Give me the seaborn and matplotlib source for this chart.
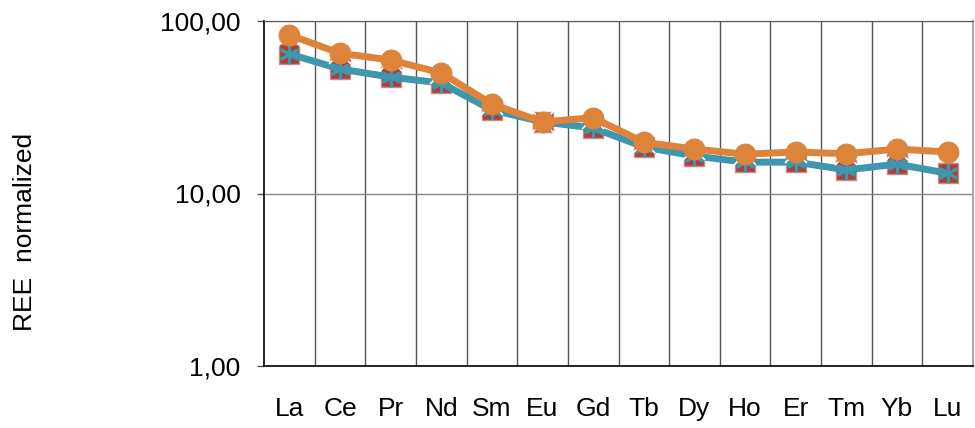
import numpy as np
import pandas as pd
import matplotlib
matplotlib.use("Agg")
import matplotlib.pyplot as plt
from matplotlib.ticker import FixedLocator, FuncFormatter, NullFormatter
import seaborn as sns

# REE pattern, chondrite-normalized values
elements = ["La", "Ce", "Pr", "Nd", "Sm", "Eu", "Gd", "Tb", "Dy", "Ho", "Er", "Tm", "Yb", "Lu"]
sample_a = [64.4, 52.7, 47.3, 43.7, 30.5, 26.0, 24.0, 18.6, 16.5, 15.2, 15.2, 13.7, 14.8, 13.1]
sample_b = [83.0, 65.0, 59.4, 50.0, 33.0, 26.0, 27.5, 19.8, 18.1, 16.9, 17.4, 17.0, 18.1, 17.4]

sns.set_style("white")
plt.rcParams["font.family"] = ["Liberation Sans", "DejaVu Sans"]
plt.rcParams["text.color"] = "black"
plt.rcParams["xtick.color"] = "black"
plt.rcParams["ytick.color"] = "black"

df = pd.DataFrame({"element": elements, "a": sample_a, "b": sample_b})

fig = plt.figure(figsize=(9.75, 4.28), dpi=100)
ax = fig.add_axes([264 / 975, 1 - 366 / 428, (973 - 264) / 975, (366 - 21) / 428])

# series A: red squares under a teal line with star markers
sns.lineplot(data=df, x="element", y="a", ax=ax, color="#3D97AE", lw=0,
             marker="s", markersize=15, markerfacecolor="#A8423E",
             markeredgecolor="#C98A88", markeredgewidth=1, zorder=3, sort=False)
sns.lineplot(data=df, x="element", y="a", ax=ax, color="#3D97AE", lw=5,
             marker=(6, 2, 0), markersize=14, markeredgecolor="#3D97AE",
             markeredgewidth=2, zorder=4, sort=False)

# series B: purple crosses hidden under orange circles
sns.lineplot(data=df, x="element", y="b", ax=ax, color="#7A5AA0", lw=0,
             marker="x", markersize=16, markeredgewidth=1.2, zorder=5, sort=False)
sns.lineplot(data=df, x="element", y="b", ax=ax, color="#DE833A", lw=5,
             marker="o", markersize=15, markeredgecolor="#DE833A", zorder=6, sort=False)

ax.set_yscale("log")
ax.set_ylim(1, 100)
ax.set_xlim(-0.5, len(elements) - 0.5)
ax.yaxis.set_major_locator(FixedLocator([1, 10, 100]))
ax.yaxis.set_minor_locator(FixedLocator([]))
ax.yaxis.set_major_formatter(FuncFormatter(lambda v, p: f"{v:.2f}".replace(".", ",")))

ax.xaxis.set_minor_locator(FixedLocator(np.arange(0.5, len(elements) - 0.5, 1)))
ax.xaxis.set_minor_formatter(NullFormatter())
ax.grid(True, which="minor", axis="x", color="#555555", lw=1)
ax.grid(True, which="major", axis="y", color="#888888", lw=1)
ax.set_axisbelow(True)

ax.tick_params(axis="y", which="major", left=True, length=5, width=1, color="#555555",
               labelsize=19, pad=12)
ax.tick_params(axis="x", which="both", bottom=False, labelsize=19, pad=19)

for side in ["left", "bottom"]:
    ax.spines[side].set_color("black")
    ax.spines[side].set_linewidth(1.2)
ax.spines["top"].set_color("#555555")
ax.spines["right"].set_color("#aaaaaa")
ax.spines["right"].set_linewidth(1.5)

ax.set_xlabel("")
ax.set_ylabel("")
fig.text(25 / 975, 1 - 232 / 428, "REE  normalized", rotation=90, fontsize=19,
         ha="center", va="center")

fig.savefig("out.png", dpi=100)
